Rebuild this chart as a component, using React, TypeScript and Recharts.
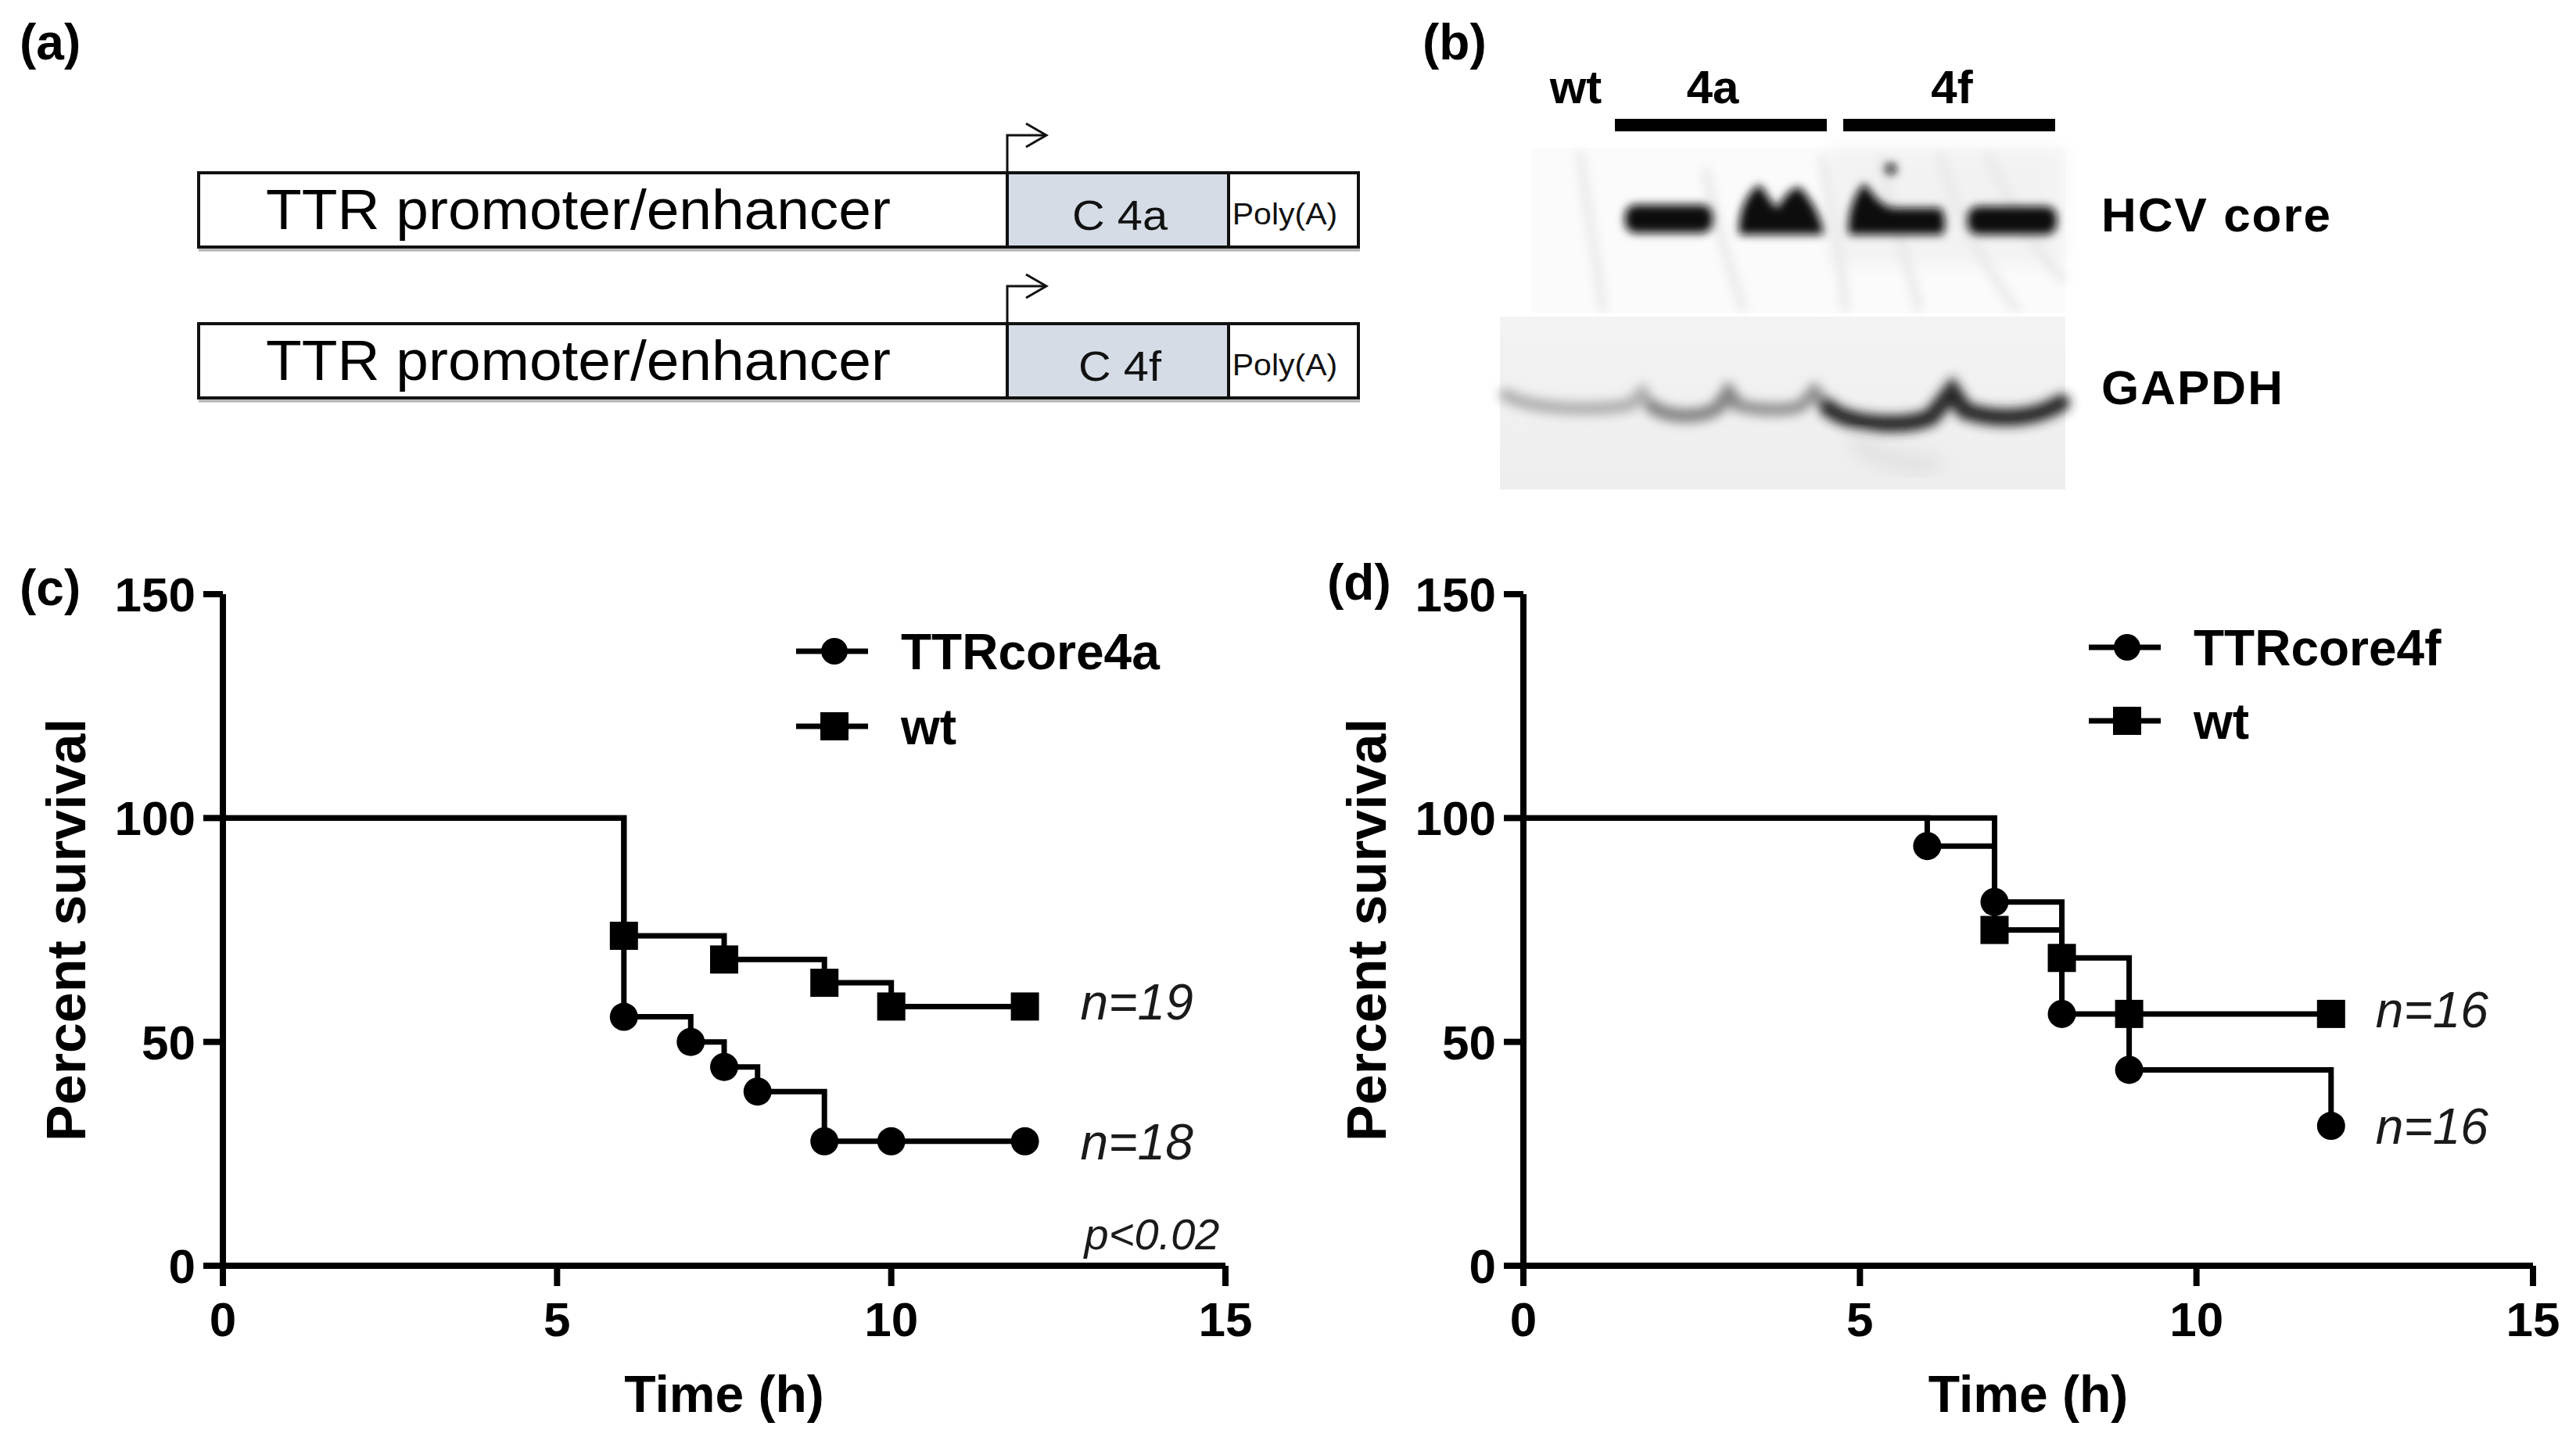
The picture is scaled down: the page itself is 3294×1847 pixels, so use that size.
import React from 'react';
import { LineChart, Line, XAxis, YAxis, Legend, ReferenceDot } from 'recharts';

const FONT = '"Liberation Sans", Arial, Helvetica, sans-serif';

// shared axes
const X_TICKS = [0, 5, 10, 15];
const Y_TICKS = [0, 50, 100, 150];

// (c) TTRcore4a vs wt
const core4aTime = [0, 6, 7, 7.5, 8, 9, 10, 12];
const core4aSurv = [100, 55.6, 50, 44.4, 38.9, 27.8, 27.8, 27.8];
const wtCTime = [0, 6, 7.5, 9, 10, 12];
const wtCSurv = [100, 73.7, 68.4, 63.2, 57.9, 57.9];
const nCore4a = 18;
const nWtC = 19;
const pValueC = 'p<0.02';

// (d) TTRcore4f vs wt
const core4fTime = [0, 6, 7, 8, 9, 12];
const core4fSurv = [100, 93.75, 81.25, 56.25, 43.75, 31.25];
const wtDTime = [0, 7, 8, 9, 12];
const wtDSurv = [100, 75, 68.75, 56.25, 56.25];
const nCore4f = 16;
const nWtD = 16;

type Pt = { x: number; y: number };
const toPoints = (xs: number[], ys: number[]): Pt[] => xs.map((x, i) => ({ x, y: ys[i] }));

const circleDot = (props: any) => {
  const { cx, cy, index } = props;
  if (index === 0) return <g key={`c-${index}`} />;
  return <circle key={`c-${index}`} cx={cx} cy={cy} r={18} fill="#000" />;
};

const squareDot = (props: any) => {
  const { cx, cy, index } = props;
  if (index === 0) return <g key={`s-${index}`} />;
  return <rect key={`s-${index}`} x={cx - 18} y={cy - 18} width={36} height={36} fill="#000" />;
};

const xTitle = (props: any) => {
  const vb = props.viewBox || { x: 285, y: 1619, width: 1282 };
  return (
    <text x={vb.x + vb.width / 2} y={vb.y + 187} textAnchor="middle" fontSize={66} fontWeight={700} fontFamily={FONT} fill="#000">
      Time (h)
    </text>
  );
};

const yTitle = (props: any) => {
  const vb = props.viewBox || { x: 85, y: 760, width: 200, height: 859 };
  const cx = vb.x + vb.width - 176;
  const cy = vb.y + vb.height / 2;
  return (
    <text x={cx} y={cy} transform={`rotate(-90 ${cx} ${cy})`} textAnchor="middle" fontSize={70} fontWeight={700} fontFamily={FONT} fill="#000">
      Percent survival
    </text>
  );
};

const legendBox = (name: string, gap: number) => () => (
  <svg width={600} height={220} style={{ overflow: 'visible', display: 'block' }}>
    <line x1={18} x2={110} y1={53} y2={53} stroke="#000" strokeWidth={7} />
    <circle cx={67} cy={53} r={17} fill="#000" />
    <text x={152} y={76} fontSize={64} fontWeight={700} fontFamily={FONT} fill="#000">{name}</text>
    <line x1={18} x2={110} y1={53 + gap} y2={53 + gap} stroke="#000" strokeWidth={7} />
    <rect x={49} y={35 + gap} width={36} height={36} fill="#000" />
    <text x={152} y={76 + gap} fontSize={64} fontWeight={700} fontFamily={FONT} fill="#000">wt</text>
  </svg>
);

interface SurvivalProps {
  width: number;
  margin: { top: number; right: number; bottom: number; left: number };
  treated: Pt[];
  wt: Pt[];
  treatedName: string;
  nTreated: number;
  nWt: number;
  nOffset: number;
  legendLeft: number;
  legendTop: number;
  legendGap: number;
  pText?: string;
}

function SurvivalChart(p: SurvivalProps) {
  const lastT = p.treated[p.treated.length - 1];
  const lastW = p.wt[p.wt.length - 1];
  const axisStroke = { stroke: '#000', strokeWidth: 8 };
  const tickStyle = { fill: '#000', fontSize: 62, fontWeight: 700, fontFamily: FONT };
  const nLabel = (text: string) => ({
    value: text,
    position: 'right' as const,
    offset: p.nOffset,
    fontSize: 64,
    fontStyle: 'italic',
    fontFamily: FONT,
    fill: '#1a1a1a',
  });
  return (
    <LineChart width={p.width} height={1847} margin={p.margin}>
      <XAxis
        type="number"
        dataKey="x"
        domain={[0, 15]}
        ticks={X_TICKS}
        interval={0}
        height={200}
        axisLine={axisStroke}
        tickLine={axisStroke}
        tickSize={26}
        tickMargin={20}
        tick={tickStyle}
        label={xTitle}
      />
      <YAxis
        type="number"
        domain={[0, 150]}
        ticks={Y_TICKS}
        interval={0}
        width={200}
        axisLine={axisStroke}
        tickLine={axisStroke}
        tickSize={25}
        tickMargin={10}
        tick={tickStyle}
        label={yTitle}
      />
      <Legend
        layout="vertical"
        align="center"
        verticalAlign="middle"
        content={legendBox(p.treatedName, p.legendGap)}
        wrapperStyle={{ left: p.legendLeft, top: p.legendTop, width: 600, height: 220 }}
      />
      <Line
        data={p.treated}
        dataKey="y"
        name={p.treatedName}
        type="stepAfter"
        stroke="#000"
        strokeWidth={7}
        dot={circleDot}
        activeDot={false}
        isAnimationActive={false}
      />
      <Line
        data={p.wt}
        dataKey="y"
        name="wt"
        type="stepAfter"
        stroke="#000"
        strokeWidth={7}
        dot={squareDot}
        activeDot={false}
        isAnimationActive={false}
      />
      <ReferenceDot x={lastW.x} y={lastW.y + 1} r={0} fill="none" stroke="none" label={nLabel(`n=${p.nWt}`)} />
      <ReferenceDot x={lastT.x} y={lastT.y} r={0} fill="none" stroke="none" label={nLabel(`n=${p.nTreated}`)} />
      {p.pText && (
        <ReferenceDot
          x={lastT.x}
          y={7.2}
          r={0}
          fill="none"
          stroke="none"
          label={{ value: p.pText, position: 'right', offset: 76, fontSize: 56, fontStyle: 'italic', fontFamily: FONT, fill: '#1a1a1a' }}
        />
      )}
    </LineChart>
  );
}

function Construct({ dy, core }: { dy: number; core: string }) {
  return (
    <g transform={`translate(0 ${dy})`}>
      <rect x={254} y={221} width={1483} height={95} fill="#fff" />
      <rect x={1288} y={221} width={283} height={95} fill="#d5dce6" />
      <line x1={254} x2={1739} y1={320} y2={320} stroke="#b0b0b0" strokeWidth={3} />
      <rect x={254} y={221} width={1483} height={95} fill="none" stroke="#111" strokeWidth={4} />
      <line x1={1288} x2={1288} y1={221} y2={316} stroke="#111" strokeWidth={4} />
      <line x1={1571} x2={1571} y1={221} y2={316} stroke="#111" strokeWidth={4} />
      <path d="M1288,221 V173 H1336" fill="none" stroke="#111" strokeWidth={3} />
      <path d="M1312,158 L1338,173 L1312,188" fill="none" stroke="#111" strokeWidth={3} />
      <text transform="translate(340 293) scale(1.04 1)" fontSize={72} fontFamily={FONT} fill="#000">
        TTR promoter/enhancer
      </text>
      <text transform="translate(1432 294) scale(1.07 1)" textAnchor="middle" fontSize={54} fontFamily={FONT} fill="#111">
        {core}
      </text>
      <text transform="translate(1643 287) scale(1.08 1)" textAnchor="middle" fontSize={38} fontFamily={FONT} fill="#111">
        Poly(A)
      </text>
    </g>
  );
}

function Blot() {
  return (
    <g>
      <defs>
        <filter id="blur6" x="-20%" y="-50%" width="140%" height="200%">
          <feGaussianBlur stdDeviation={6} />
        </filter>
        <filter id="blur7" x="-20%" y="-80%" width="140%" height="260%">
          <feGaussianBlur stdDeviation={7} />
        </filter>
        <filter id="blur12" x="-20%" y="-50%" width="140%" height="200%">
          <feGaussianBlur stdDeviation={12} />
        </filter>
        <linearGradient id="gapdhBg" x1="0" x2="0" y1="0" y2="1">
          <stop offset="0" stopColor="#f3f3f3" />
          <stop offset="1" stopColor="#eeeeee" />
        </linearGradient>
      </defs>
      {/* lane labels */}
      <text x={2015} y={132} textAnchor="middle" fontSize={60} fontWeight={700} fontFamily={FONT} fill="#000">wt</text>
      <text x={2190} y={132} textAnchor="middle" fontSize={60} fontWeight={700} fontFamily={FONT} fill="#000">4a</text>
      <text x={2496} y={132} textAnchor="middle" fontSize={60} fontWeight={700} fontFamily={FONT} fill="#000">4f</text>
      <rect x={2065} y={152} width={271} height={16} fill="#000" />
      <rect x={2357} y={152} width={271} height={16} fill="#000" />

      {/* HCV core membrane */}
      <rect x={1958} y={189} width={683} height={211} fill="#fbfbfb" />
      <g filter="url(#blur7)" stroke="#e2e2e2" strokeWidth={8} fill="none">
        <path d="M2020,195 C2030,260 2040,330 2050,398" />
        <path d="M2180,215 C2195,290 2215,350 2230,398" />
        <path d="M2330,200 C2345,280 2355,340 2360,398" />
        <path d="M2405,200 C2420,280 2440,340 2455,398" />
        <path d="M2480,195 C2500,270 2530,330 2580,398" />
        <path d="M2540,195 C2570,260 2600,320 2641,360" />
      </g>
      <rect x={2340} y={189} width={300} height={150} fill="#e8e8e8" opacity={0.45} filter="url(#blur12)" />
      <g filter="url(#blur6)" fill="#0c0c0c">
        <rect x={2078} y={262} width={112} height={36} rx={14} />
        <path d="M2224,300 C2222,270 2235,245 2250,236 C2260,248 2266,262 2273,266 C2282,250 2292,238 2302,240 C2318,258 2330,280 2332,300 Z" />
        <path d="M2364,300 C2362,270 2372,248 2384,234 C2396,250 2404,262 2420,266 L2482,266 C2488,276 2488,292 2484,300 Z" />
        <rect x={2516} y={264} width={114} height={36} rx={14} />
        <circle cx={2418} cy={216} r={7} />
      </g>

      {/* GAPDH membrane */}
      <rect x={1918} y={405} width={723} height={221} fill="url(#gapdhBg)" />
      <g filter="url(#blur7)" fill="none" strokeLinecap="round">
        <path d="M1925,505 C1960,525 2040,526 2085,518 L2100,502 L2112,520" stroke="#adadad" strokeWidth={16} />
        <path d="M2112,520 C2140,538 2185,533 2198,520 L2210,502 L2222,518" stroke="#828282" strokeWidth={18} />
        <path d="M2222,518 C2250,526 2290,526 2305,518 L2320,500 L2336,520" stroke="#8f8f8f" strokeWidth={16} />
        <path d="M2336,520 C2360,545 2440,548 2470,533 L2496,500 L2512,525 C2550,538 2600,538 2636,515" stroke="#262626" strokeWidth={22} />
      </g>
      <path d="M2370,560 C2400,590 2450,600 2480,590" stroke="#dedede" strokeWidth={20} fill="none" filter="url(#blur12)" />

      <text x={2687} y={296} fontSize={62} fontWeight={700} fontFamily={FONT} fill="#000" letterSpacing={2}>HCV core</text>
      <text x={2687} y={517} fontSize={62} fontWeight={700} fontFamily={FONT} fill="#000" letterSpacing={2}>GAPDH</text>
    </g>
  );
}

export default function App() {
  const panelLabel = { fontSize: 64, fontWeight: 700, fontFamily: FONT, fill: '#000' };
  return (
    <div style={{ position: 'absolute', left: 0, top: 0, width: 3294, height: 1847, background: '#fff', overflow: 'hidden', fontFamily: FONT }}>
      <div style={{ position: 'absolute', left: 0, top: 0 }}>
        <SurvivalChart
          width={1640}
          margin={{ top: 760, right: 73, bottom: 28, left: 85 }}
          treated={toPoints(core4aTime, core4aSurv)}
          wt={toPoints(wtCTime, wtCSurv)}
          treatedName="TTRcore4a"
          nTreated={nCore4a}
          nWt={nWtC}
          nOffset={71}
          legendLeft={1000}
          legendTop={780}
          legendGap={96}
          pText={pValueC}
        />
      </div>
      <div style={{ position: 'absolute', left: 1640, top: 0 }}>
        <SurvivalChart
          width={1654}
          margin={{ top: 760, right: 55, bottom: 28, left: 108 }}
          treated={toPoints(core4fTime, core4fSurv)}
          wt={toPoints(wtDTime, wtDSurv)}
          treatedName="TTRcore4f"
          nTreated={nCore4f}
          nWt={nWtD}
          nOffset={57}
          legendLeft={1013}
          legendTop={775}
          legendGap={94}
        />
      </div>
      <svg width={3294} height={1847} style={{ position: 'absolute', left: 0, top: 0, pointerEvents: 'none' }}>
        <text x={25} y={76} {...panelLabel}>(a)</text>
        <text x={1819} y={76} {...panelLabel}>(b)</text>
        <text x={25} y={774} {...panelLabel}>(c)</text>
        <text x={1697} y={767} {...panelLabel}>(d)</text>
        <Construct dy={0} core="C 4a" />
        <Construct dy={193} core="C 4f" />
        <Blot />
      </svg>
    </div>
  );
}
